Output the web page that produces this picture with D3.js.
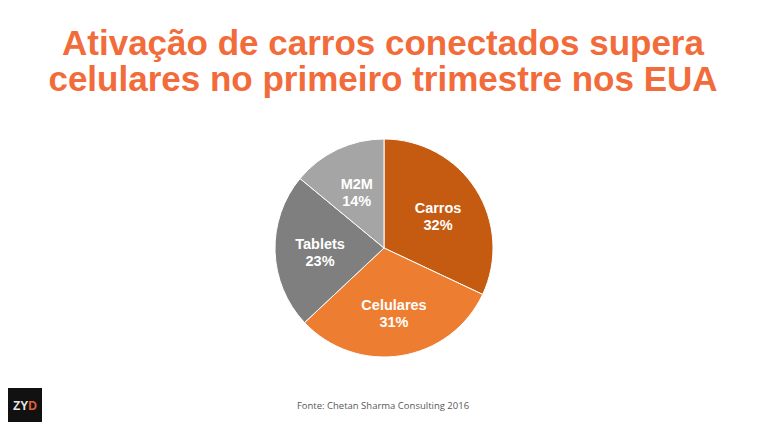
<!DOCTYPE html>
<html>
<head>
<meta charset="utf-8">
<script src="https://cdn.jsdelivr.net/npm/d3@7"></script>
<style>
  body { margin: 0; background: #fff; }
  svg { display: block; }
</style>
</head>
<body>
<svg id="chart"></svg>
<script>
// data
const categories = ['Carros', 'Celulares', 'Tablets', 'M2M'];
const shares = [32, 31, 23, 14];
const sliceColors = ['#C55A11', '#ED7D31', '#7F7F7F', '#A5A5A5'];
const titleLines = ['Ativação de carros conectados supera', 'celulares no primeiro trimestre nos EUA'];
const sourceText = 'Fonte: Chetan Sharma Consulting 2016';

const width = 768, height = 432;
const cx = 384, cy = 248, radius = 109;

const svg = d3.select('#chart')
    .attr('width', width)
    .attr('height', height);

// title, two lines
svg.append('g')
    .selectAll('text')
    .data(titleLines)
    .join('text')
    .attr('x', 383)
    .attr('y', (d, i) => 55 + i * 36)
    .attr('text-anchor', 'middle')
    .attr('font-family', 'Liberation Sans, Arial, sans-serif')
    .attr('font-weight', 'bold')
    .attr('font-size', '35px')
    .attr('fill', '#F26B3A')
    .text(d => d);

const pieData = categories.map((c, i) => ({ name: c, value: shares[i], color: sliceColors[i] }));

const pie = d3.pie()
    .value(d => d.value)
    .sort(null);

const arc = d3.arc()
    .innerRadius(0)
    .outerRadius(radius);

const labelArc = d3.arc()
    .innerRadius(64)
    .outerRadius(64);

const chart = svg.append('g')
    .attr('transform', `translate(${cx},${cy})`);

const arcs = pie(pieData);

chart.selectAll('path')
    .data(arcs)
    .join('path')
    .attr('d', arc)
    .attr('fill', d => d.data.color)
    .attr('stroke', '#fff')
    .attr('stroke-width', 1);

const labels = chart.selectAll('text.slice-label')
    .data(arcs)
    .join('text')
    .attr('class', 'slice-label')
    .attr('transform', d => `translate(${labelArc.centroid(d)})`)
    .attr('text-anchor', 'middle')
    .attr('font-family', 'Liberation Sans, Arial, sans-serif')
    .attr('font-weight', 'bold')
    .attr('font-size', '14.5px')
    .attr('fill', '#fff');

labels.append('tspan')
    .attr('x', 0)
    .attr('y', -1)
    .text(d => d.data.name);

labels.append('tspan')
    .attr('x', 0)
    .attr('y', 16)
    .text(d => d.data.value + '%');

// source note
svg.append('text')
    .attr('x', 383)
    .attr('y', 409)
    .attr('text-anchor', 'middle')
    .attr('font-family', 'Open Sans, sans-serif')
    .attr('font-size', '9.5px')
    .attr('fill', '#595959')
    .text(sourceText);

// logo
const logo = svg.append('g');
logo.append('rect')
    .attr('x', 8)
    .attr('y', 388)
    .attr('width', 34)
    .attr('height', 34)
    .attr('fill', '#111');
const logoText = logo.append('text')
    .attr('x', 25)
    .attr('y', 410)
    .attr('text-anchor', 'middle')
    .attr('font-family', 'Liberation Sans, Arial, sans-serif')
    .attr('font-weight', 'bold')
    .attr('font-size', '12px');
logoText.append('tspan').attr('fill', '#e8e8e8').text('ZY');
logoText.append('tspan').attr('fill', '#E0603A').text('D');
</script>
</body>
</html>
